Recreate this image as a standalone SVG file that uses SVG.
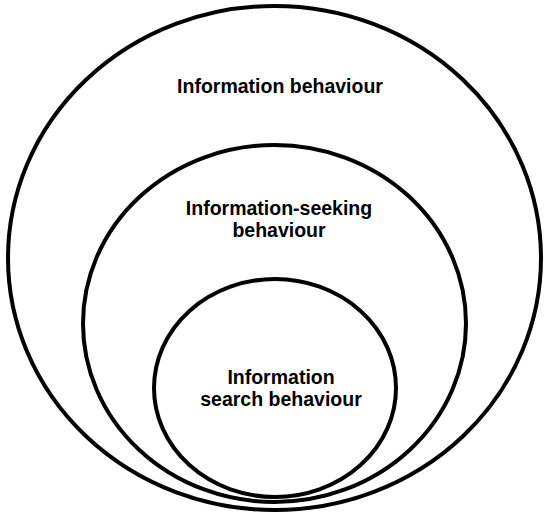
<svg xmlns="http://www.w3.org/2000/svg" width="547" height="514" viewBox="0 0 547 514">
<style>
.ring{fill:none;stroke:#000;stroke-width:4}
.lbl{font-family:"Liberation Sans",Arial,sans-serif;font-weight:bold;font-size:19.5px;fill:#000;text-anchor:middle}
</style>
<rect width="547" height="514" fill="#fff"/>
<g id="outer">
<ellipse class="ring" cx="274.5" cy="258" rx="266.5" ry="252"/>
<text class="lbl" x="280" y="93">Information behaviour</text>
</g>
<g id="middle">
<ellipse class="ring" cx="274.5" cy="323.5" rx="191.5" ry="178.5"/>
<text class="lbl" x="279" y="215">Information-seeking</text>
<text class="lbl" x="279" y="237">behaviour</text>
</g>
<g id="inner">
<ellipse class="ring" cx="275" cy="388" rx="121" ry="109"/>
<text class="lbl" x="281" y="384">Information</text>
<text class="lbl" x="281" y="406">search behaviour</text>
</g>
<g id="connectors"/>
</svg>
